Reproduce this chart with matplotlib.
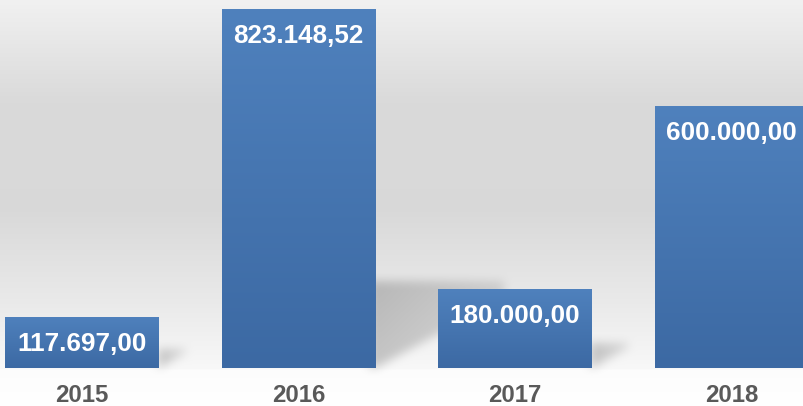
import numpy as np
import matplotlib
matplotlib.use('Agg')
import matplotlib.pyplot as plt
from matplotlib.colors import LinearSegmentedColormap

years = ['2015', '2016', '2017', '2018']
values = [117697.00, 823148.52, 180000.00, 600000.00]
labels = ['117.697,00', '823.148,52', '180.000,00', '600.000,00']

W, H = 803, 406
BASE = 38  # px of floor below the bars

plt.rcParams['font.family'] = ['Liberation Sans', 'DejaVu Sans']

fig = plt.figure(figsize=(W / 72, H / 72), dpi=72)
bg = fig.add_axes([0, 0, 1, 1])
bg.set_axis_off()
ax = fig.add_axes([0, BASE / H, 1, 1 - BASE / H])
ax.patch.set_visible(False)

x = np.arange(len(years))
width = 0.711
xlim = (-0.379, 3.33)
ylim = (0, max(values) * (H - BASE) / 359)

bars = ax.bar(x, values, width=width, color='none', edgecolor='none', zorder=2)

# blue vertical gradient inside each bar
bar_cmap = LinearSegmentedColormap.from_list('bar', ['#3c69a3', '#4f81bd'])
grad = np.linspace(0, 1, 256).reshape(-1, 1)
for b in bars:
    im = ax.imshow(grad, cmap=bar_cmap, origin='lower', aspect='auto',
                   extent=(b.get_x(), b.get_x() + b.get_width(), 0, b.get_height()),
                   zorder=2)
    im.set_clip_path(b)

ax.set_xlim(*xlim)
ax.set_ylim(*ylim)
ax.set_xticks([])
ax.set_yticks([])
for s in ax.spines.values():
    s.set_visible(False)

# background: grey gradient plus soft shadows, in pixel space
rows = np.arange(H)
ky = [0, 100, 210, 300, H - BASE, H - BASE + 2, H]
kv = [0.945, 0.855, 0.850, 0.915, 0.972, 0.99, 1.0]
col = np.interp(rows, ky, kv)
img = np.repeat(col[:, None], W, axis=1)

px, py = np.meshgrid(np.arange(W) + 0.5, np.arange(H) + 0.5)
shade = np.zeros((H, W))
for b in bars:
    (x0, y0), (x1, y1) = ax.transData.transform([(b.get_x(), 0),
                                                   (b.get_x() + b.get_width(), b.get_height())])
    base_y = H - y0
    h = y1 - y0
    hs = 0.22 * h + 8
    L = 0.33 * h + 10
    t = (px - x1) / L
    m = (t >= -0.05) & (t <= 1) & (py >= base_y - hs) & (py <= base_y - np.clip(t, 0, 1) * hs * 0.8)
    shade = np.maximum(shade, m * (1 - 0.45 * np.clip(t, 0, 1)))


def blur(a, r):
    k = np.ones(2 * r + 1) / (2 * r + 1)
    a = np.apply_along_axis(lambda v: np.convolve(v, k, mode='same'), 1, a)
    a = np.apply_along_axis(lambda v: np.convolve(v, k, mode='same'), 0, a)
    return a


shade = blur(blur(shade, 5), 5)
img = img * (1 - 0.2 * shade)
rgb = np.dstack([img, img, img])
bg.imshow(rgb, extent=(0, 1, 0, 1), aspect='auto', interpolation='bilinear')
bg.set_xlim(0, 1)
bg.set_ylim(0, 1)

for xi, v, lab in zip(x, values, labels):
    ax.annotate(lab, (xi, v), xytext=(0, -27), textcoords='offset points',
                ha='center', va='center', color='white', fontsize=26,
                fontweight='bold', zorder=3)

for xi, yr in zip(x, years):
    ax.annotate(yr, (xi, 0), xytext=(0, -27.5), textcoords='offset points',
                ha='center', va='center', color='#595959', fontsize=24,
                fontweight='bold', annotation_clip=False)

fig.savefig('out.png', dpi=72)
